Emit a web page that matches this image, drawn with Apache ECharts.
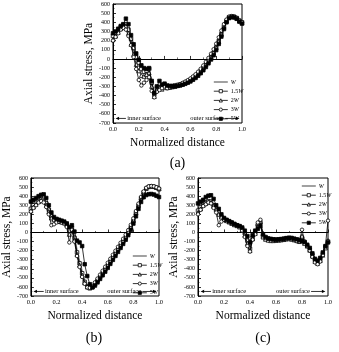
<!DOCTYPE html>
<html>
<head>
<meta charset="utf-8">
<script src="https://cdn.jsdelivr.net/npm/echarts@6/dist/echarts.min.js"></script>
<style>
  html, body { margin: 0; padding: 0; background: #fff; }
  #chart { width: 339px; height: 352px; }
</style>
</head>
<body>
<div id="chart"></div>
<script>
// normalized distance (shared by all panels)
let xs = [0.00, 0.02, 0.04, 0.06, 0.08, 0.10, 0.12, 0.14, 0.16, 0.18,
          0.20, 0.22, 0.24, 0.26, 0.28, 0.30, 0.32, 0.34, 0.36, 0.38,
          0.40, 0.42, 0.44, 0.46, 0.48, 0.50, 0.52, 0.54, 0.56, 0.58,
          0.60, 0.62, 0.64, 0.66, 0.68, 0.70, 0.72, 0.74, 0.76, 0.78,
          0.80, 0.82, 0.84, 0.86, 0.88, 0.90, 0.92, 0.94, 0.96, 0.98, 1.00];

let names = ["W", "1.5W", "2W", "3W", "5W"];
let panelLabels = ["(a)", "(b)", "(c)"];
let xTicks = [0, 0.2, 0.4, 0.6, 0.8, 1.0];
let yTicks = [-700, -600, -500, -400, -300, -200, -100, 0, 100, 200, 300, 400, 500, 600];

// panel (a), axial stress in MPa
// prettier-ignore
let aW   = [230, 270, 300, 340, 360, 370, 300, 200, 100, 0, -60, -130, -150, -140, -120, -280, -400, -330, -300, -310, -300, -310, -305, -300, -295, -290, -285, -275, -265, -250, -235, -215, -195, -170, -140, -110, -75, -35, 5, 50, 110, 180, 260, 340, 410, 450, 460, 455, 440, 410, 390];
// prettier-ignore
let a15W = [250, 280, 310, 350, 370, 380, 320, 220, 120, 20, -40, -110, -140, -130, -110, -260, -390, -320, -310, -300, -295, -305, -300, -295, -290, -285, -280, -270, -258, -244, -228, -208, -186, -160, -130, -98, -62, -22, 20, 66, 126, 196, 272, 350, 416, 456, 465, 460, 446, 418, 400];
// prettier-ignore
let a2W  = [210, 250, 290, 330, 350, 360, 280, 160, 50, -60, -130, -180, -190, -170, -150, -300, -410, -340, -320, -330, -310, -315, -310, -305, -300, -290, -282, -272, -260, -246, -230, -210, -188, -162, -132, -100, -64, -24, 18, 64, 122, 190, 268, 346, 414, 454, 463, 458, 444, 414, 396];
// prettier-ignore
let a3W  = [200, 240, 280, 320, 340, 320, 250, 150, 20, -110, -230, -290, -260, -230, -200, -350, -420, -360, -340, -320, -300, -320, -310, -300, -295, -285, -275, -262, -248, -232, -214, -192, -168, -140, -108, -72, -32, 10, 56, 106, 166, 236, 310, 380, 430, 462, 468, 462, 448, 420, 402];
// prettier-ignore
let a5W  = [280, 300, 330, 360, 380, 440, 380, 260, 160, 60, -10, -70, -100, -110, -100, -240, -370, -300, -240, -280, -270, -290, -295, -300, -300, -295, -290, -282, -272, -260, -246, -228, -208, -184, -156, -124, -88, -48, -6, 40, 96, 164, 244, 326, 400, 446, 458, 454, 438, 408, 386];

// panel (b)
// prettier-ignore
let bW   = [300, 330, 350, 370, 380, 370, 330, 260, 190, 150, 140, 130, 120, 110, 95, 40, 60, -40, -200, -320, -430, -530, -585, -605, -595, -565, -528, -490, -450, -410, -368, -324, -280, -236, -192, -148, -104, -58, -8, 50, 120, 200, 280, 350, 398, 418, 425, 425, 418, 405, 392];
// prettier-ignore
let b15W = [260, 300, 330, 350, 365, 360, 320, 250, 180, 150, 135, 125, 118, 108, 90, 20, 50, -60, -220, -340, -450, -545, -595, -610, -600, -568, -530, -490, -450, -408, -366, -322, -278, -234, -190, -146, -102, -56, -6, 54, 126, 210, 296, 376, 440, 482, 502, 508, 504, 494, 478];
// prettier-ignore
let b2W  = [240, 280, 310, 340, 355, 350, 300, 230, 160, 140, 130, 120, 115, 105, 85, -20, 40, -80, -240, -360, -470, -555, -600, -612, -598, -562, -522, -480, -438, -396, -352, -308, -264, -220, -176, -132, -88, -42, 8, 66, 138, 220, 304, 382, 446, 488, 506, 510, 506, 496, 482];
// prettier-ignore
let b3W  = [230, 270, 300, 330, 345, 330, 280, 200, 80, 90, 110, 120, 110, 100, 60, -110, 30, -100, -260, -380, -490, -565, -605, -610, -590, -550, -508, -465, -422, -378, -334, -290, -246, -202, -158, -114, -70, -24, 26, 84, 156, 236, 318, 392, 452, 492, 508, 512, 508, 498, 484];
// prettier-ignore
let b5W  = [340, 360, 380, 400, 415, 420, 380, 300, 220, 170, 150, 140, 130, 120, 100, 60, 80, 10, -90, -110, -150, -350, -480, -570, -605, -585, -550, -512, -472, -432, -390, -346, -302, -258, -214, -170, -126, -80, -30, 28, 98, 178, 260, 336, 388, 412, 422, 424, 418, 404, 390];

// panel (c)
// prettier-ignore
let cW   = [280, 310, 330, 350, 355, 350, 310, 270, 230, 180, 150, 135, 120, 105, 90, 80, 70, 50, 10, -60, -150, -40, 10, 60, 90, -30, -60, -70, -75, -80, -80, -78, -75, -70, -65, -60, -65, -70, -80, -90, -100, -110, -140, -180, -240, -300, -320, -290, -230, -160, -100];
// prettier-ignore
let c15W = [240, 280, 310, 330, 345, 340, 300, 260, 220, 175, 150, 130, 118, 100, 88, 78, 65, 40, -10, -90, -180, -60, 0, 80, 110, -40, -70, -80, -85, -85, -85, -82, -80, -75, -70, -65, -70, -78, -85, -95, -60, -115, -145, -190, -250, -310, -330, -300, -240, -170, -100];
// prettier-ignore
let c2W  = [220, 260, 300, 320, 335, 330, 290, 250, 200, 170, 145, 130, 115, 100, 85, 75, 60, 30, -30, -120, -200, -70, -10, 100, 120, -50, -75, -85, -90, -90, -88, -85, -82, -78, -72, -68, -75, -82, -90, -100, -40, -120, -150, -195, -260, -320, -340, -310, -250, -170, -90];
// prettier-ignore
let c3W  = [200, 250, 290, 310, 330, 320, 270, 220, 80, 120, 140, 125, 120, 110, 90, 80, 70, 20, -50, -150, -210, -80, -20, 110, 140, -30, -60, -70, -75, -80, -80, -78, -75, -70, -65, -60, -70, -80, -95, -100, 30, -100, -150, -200, -270, -330, -350, -320, -250, -150, 130];
// prettier-ignore
let c5W  = [320, 340, 360, 390, 405, 410, 370, 300, 260, 200, 160, 140, 125, 110, 95, 80, 70, 55, 20, -40, -110, -30, 20, 40, 70, -20, -50, -65, -70, -75, -78, -76, -72, -68, -62, -58, -60, -68, -75, -85, -95, -105, -135, -170, -230, -290, -310, -280, -220, -150, -110];

let panels = [
  [aW, a15W, a2W, a3W, a5W],
  [bW, b15W, b2W, b3W, b5W],
  [cW, c15W, c2W, c3W, c5W],
];

let serif = "Liberation Serif";
let grids = [
  { left: 113, top: 4, width: 129, height: 119 },
  { left: 29, top: 178, width: 130, height: 118 },
  { left: 198, top: 178, width: 130, height: 118 },
];
let legendPos = [
  { left: 208, top: 74 },
  { left: 127, top: 248 },
  { left: 296, top: 178 },
];
let symbols = ["none", "rect", "triangle", "circle", "rect"];

let chart = echarts.init(document.getElementById("chart"), null, { renderer: "canvas" });

let xAxis = [];
let yAxis = [];
let series = [];
let legend = [];

for (let p = 0; p < 3; p++) {
  xAxis.push({
    type: "value",
    gridIndex: p,
    min: xTicks[0],
    max: xTicks[xTicks.length - 1],
    interval: 0.2,
    name: "Normalized distance",
    nameLocation: "middle",
    nameGap: 14,
    nameTextStyle: { fontFamily: serif, fontSize: 11.5, color: "#000" },
    axisLine: { lineStyle: { color: "#000", width: 1 } },
    axisTick: { inside: true, length: 3, lineStyle: { color: "#000", width: 0.8 } },
    minorTick: { show: true, splitNumber: 2, length: 1.5, lineStyle: { color: "#000", width: 0.6 } },
    splitLine: { show: false },
    axisLabel: {
      fontFamily: serif,
      fontSize: 6.5,
      color: "#000",
      margin: 3,
      formatter: (v) => v.toFixed(1),
    },
  });
  yAxis.push({
    type: "value",
    gridIndex: p,
    min: yTicks[0],
    max: yTicks[yTicks.length - 1],
    interval: 100,
    name: "Axial stress, MPa",
    nameLocation: "middle",
    nameGap: 17,
    nameTextStyle: { fontFamily: serif, fontSize: 11.5, color: "#000" },
    axisLine: { show: true, lineStyle: { color: "#000", width: 1 } },
    axisTick: { show: true, inside: true, length: 3, lineStyle: { color: "#000", width: 0.8 } },
    minorTick: { show: true, splitNumber: 2, length: 1.5, lineStyle: { color: "#000", width: 0.6 } },
    splitLine: { show: false },
    axisLabel: {
      fontFamily: serif,
      fontSize: 6,
      color: "#000",
      margin: 3,
      interval: 0,
      showMinLabel: true,
      showMaxLabel: true,
    },
  });

  for (let s = 0; s < names.length; s++) {
    let vals = panels[p][s];
    let isW = s === 0;
    let item = {
      name: names[s],
      type: "line",
      xAxisIndex: p,
      yAxisIndex: p,
      data: xs.map((x, i) => [x, vals[i]]),
      symbol: symbols[s],
      symbolSize: s === 2 ? 4 : 3.5,
      showSymbol: !isW,
      lineStyle: { color: isW ? "#8a8a8a" : "#000", width: isW ? 1.6 : 0.8 },
      itemStyle: {
        color: s === 4 ? "#000" : "#fff",
        borderColor: isW ? "#8a8a8a" : "#000",
        borderWidth: 0.8,
      },
      z: isW ? 2 : 3 + s,
    };
    if (isW) {
      item.markLine = {
        silent: true,
        symbol: "none",
        label: { show: false },
        lineStyle: { color: "#000", width: 1, type: "solid" },
        data: [{ yAxis: 0 }],
      };
    }
    series.push(item);
  }

  legend.push({
    left: legendPos[p].left,
    top: legendPos[p].top,
    orient: "vertical",
    itemWidth: 14,
    itemHeight: 4,
    itemGap: 3.2,
    selectedMode: false,
    itemStyle: { color: "#fff", borderColor: "#000", borderWidth: 0.8 },
    lineStyle: { color: "#000", width: 0.8 },
    data: [
      { name: "W", itemStyle: { color: "transparent", borderColor: "transparent", borderWidth: 0 }, lineStyle: { color: "#8a8a8a", width: 1.6 } },
      { name: "1.5W" },
      { name: "2W" },
      { name: "3W" },
      { name: "5W", itemStyle: { color: "#000" } },
    ],
    textStyle: {
      fontFamily: serif,
      fontSize: 6,
      color: "#000",
      padding: [0, 0, 0, -2],
      rich: { i: { fontFamily: serif, fontSize: 6, fontStyle: "italic", color: "#000" } },
    },
    formatter: (name) => name.replace("W", "{i|W}"),
  });
}

let option = {
  animation: false,
  grid: grids.map((g) => Object.assign({ show: true, borderColor: "#000", borderWidth: 1, backgroundColor: "transparent" }, g)),
  xAxis: xAxis,
  yAxis: yAxis,
  legend: legend,
  series: series,
};
chart.setOption(option);

// surface arrows and panel labels
let graphic = [];
let arrowY = -650;
function px(p, x, y) {
  return chart.convertToPixel({ xAxisIndex: p, yAxisIndex: p }, [x, y]);
}
function arrow(p, tail, tip) {
  let a = px(p, tail, arrowY);
  let b = px(p, tip, arrowY);
  let dir = b[0] > a[0] ? 1 : -1;
  graphic.push({
    type: "line",
    shape: { x1: a[0], y1: a[1], x2: b[0] - dir * 2, y2: b[1] },
    style: { stroke: "#000", lineWidth: 0.8 },
  });
  graphic.push({
    type: "polygon",
    shape: { points: [[b[0], b[1]], [b[0] - dir * 3.5, b[1] - 1.6], [b[0] - dir * 3.5, b[1] + 1.6]] },
    style: { fill: "#000" },
  });
}
function label(p, x, text, align) {
  let a = px(p, x, arrowY);
  graphic.push({
    type: "text",
    x: a[0],
    y: a[1],
    style: {
      text: text,
      font: "6.5px " + serif,
      fill: "#000",
      align: align,
      verticalAlign: "middle",
      textAlign: align,
      textVerticalAlign: "middle",
    },
  });
}
for (let p = 0; p < 3; p++) {
  arrow(p, 0.1, 0.02);
  label(p, 0.11, "inner surface", "left");
  label(p, 0.86, "outer surface", "right");
  arrow(p, 0.87, 0.98);
  let g = grids[p];
  graphic.push({
    type: "text",
    x: g.left + g.width / 2,
    y: p === 0 ? 163 : 338,
    style: {
      text: panelLabels[p],
      font: "14px " + serif,
      fill: "#000",
      align: "center",
      verticalAlign: "middle",
      textAlign: "center",
      textVerticalAlign: "middle",
    },
  });
}
chart.setOption({ graphic: graphic });
</script>
</body>
</html>
